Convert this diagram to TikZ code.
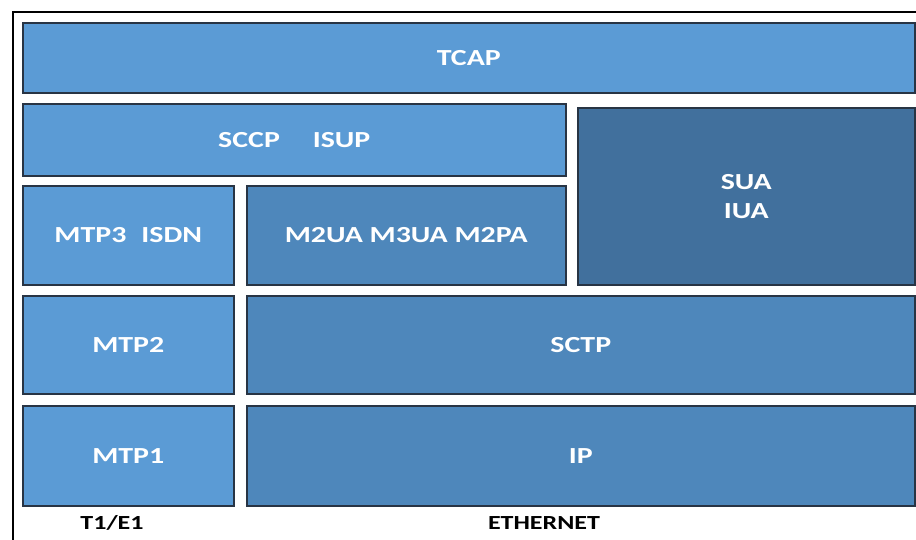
\documentclass[tikz,border=0pt]{standalone}
\usepackage{fontspec}
\usepackage{graphicx}
\setmainfont{Carlito}
\newcommand{\stretchtxt}[1]{\scalebox{1.3}[1]{#1}}
\definecolor{lightblue}{RGB}{91,155,213}
\definecolor{midblue}{RGB}{78,135,187}
\definecolor{darkblue}{RGB}{65,112,157}
\definecolor{edgecol}{RGB}{40,52,68}
\tikzset{
  layer/.style={draw=edgecol, line width=1.6pt, anchor=north west, inner sep=0pt,
    text=white, font=\fontsize{23}{30}\selectfont\bfseries, align=center},
  light/.style={layer, fill=lightblue},
  mid/.style={layer, fill=midblue},
  dark/.style={layer, fill=darkblue},
  caption/.style={text=black, font=\fontsize{20}{24}\selectfont\bfseries, inner sep=0pt}
}
\begin{document}
\begin{tikzpicture}[x=1pt,y=-1pt]
\useasboundingbox (0,0) rectangle (916,539);
\begin{scope}
\clip (0,0) rectangle (916,539);
\fill[white] (0,0) rectangle (916,539);
\draw[line width=2.6pt, black] (13,560) -- (13,12) -- (930,12);
\end{scope}
\node[light, minimum width=892pt, minimum height=70pt] (tcap) at (22,22) {\stretchtxt{TCAP}};
\node[light, minimum width=543pt, minimum height=72pt] (sccp) at (22,103) {\stretchtxt{SCCP\hspace{1.1em}ISUP}};
\node[dark, minimum width=337pt, minimum height=177pt] (sua) at (577,107) {\stretchtxt{SUA}\\[-1pt]\stretchtxt{IUA}};
\node[light, minimum width=211pt, minimum height=99pt] (mtp3) at (22,185) {\stretchtxt{MTP3\hspace{0.5em}ISDN}};
\node[mid, minimum width=319pt, minimum height=99pt] (m2ua) at (246,185) {\stretchtxt{M2UA M3UA M2PA}};
\node[light, minimum width=211pt, minimum height=98pt] (mtp2) at (22,295) {\stretchtxt{MTP2}};
\node[mid, minimum width=668pt, minimum height=98pt] (sctp) at (246,295) {\stretchtxt{SCTP}};
\node[light, minimum width=211pt, minimum height=100pt] (mtp1) at (22,405) {\stretchtxt{MTP1}};
\node[mid, minimum width=668pt, minimum height=100pt] (ip) at (246,405) {\stretchtxt{IP}};
\node[caption] (t1e1) at (112,523) {\stretchtxt{T1/E1}};
\node[caption] (eth) at (544,523) {\stretchtxt{ETHERNET}};
\end{tikzpicture}
\end{document}
